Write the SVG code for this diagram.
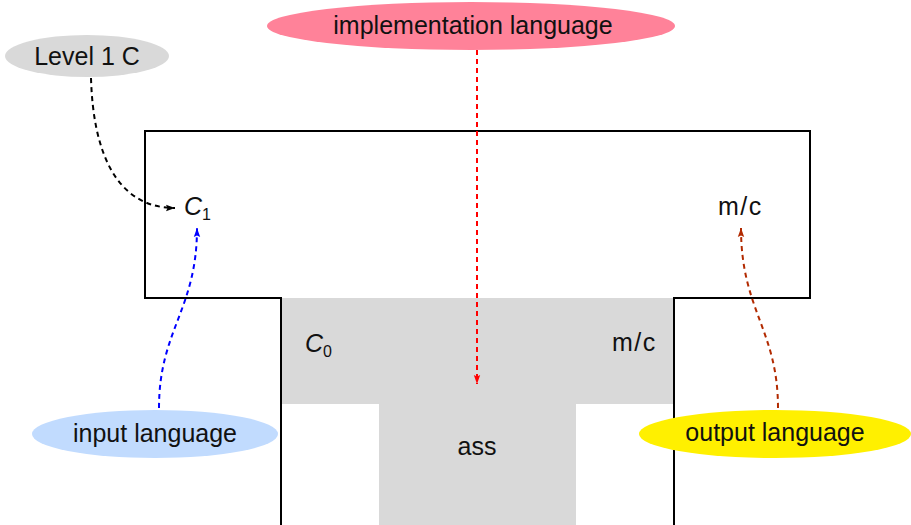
<svg xmlns="http://www.w3.org/2000/svg" width="911" height="525" viewBox="0 0 911 525">
<style>
  text { font-family: "Liberation Sans", Arial, sans-serif; font-size: 25px; fill: #111; }
  .mid { text-anchor: middle; }
  .it { font-style: italic; }
  .sub { font-size: 16px; }
  .mc { letter-spacing: 1.5px; }
  .outline { fill: none; stroke: #000; stroke-width: 2; }
  .conn { fill: none; stroke-width: 2; stroke-dasharray: 5 4; }
</style>
<defs>
  <marker id="ah-black" markerUnits="userSpaceOnUse" markerWidth="10" markerHeight="8" refX="9" refY="4" orient="auto">
    <path d="M0,0.8 L9,4 L0,7.2 L1.5,4 z" fill="#000"/>
  </marker>
  <marker id="ah-red" markerUnits="userSpaceOnUse" markerWidth="10" markerHeight="8" refX="9" refY="4" orient="auto">
    <path d="M0,0.8 L9,4 L0,7.2 L1.5,4 z" fill="#ff0000"/>
  </marker>
  <marker id="ah-blue" markerUnits="userSpaceOnUse" markerWidth="10" markerHeight="8" refX="9" refY="4" orient="auto">
    <path d="M0,0.8 L9,4 L0,7.2 L1.5,4 z" fill="#0000ff"/>
  </marker>
  <marker id="ah-brown" markerUnits="userSpaceOnUse" markerWidth="10" markerHeight="8" refX="9" refY="4" orient="auto">
    <path d="M0,0.8 L9,4 L0,7.2 L1.5,4 z" fill="#b22a00"/>
  </marker>
</defs>

<g id="lower-t">
  <path d="M282,298 H673 V404 H576 V525 H379 V404 H282 z" fill="#d9d9d9"/>
  <text class="it" x="305" y="352">C</text><text class="sub" x="323" y="357">0</text>
  <text class="mc" x="612" y="351">m/c</text>
  <text class="mid" x="477" y="455">ass</text>
</g>

<g id="upper-t">
  <path class="outline" d="M281,525 V298 H145 V131 H810 V298 H674 V525"/>
  <text class="it" x="184" y="215">C</text><text class="sub" x="202" y="220">1</text>
  <text class="mc" x="718" y="215">m/c</text>
</g>

<g id="level1c">
  <ellipse cx="87" cy="56" rx="82" ry="21" fill="#d9d9d9"/>
  <text class="mid" x="87" y="65">Level 1 C</text>
</g>

<g id="impl">
  <ellipse cx="471" cy="26" rx="204" ry="24" fill="#ff8299"/>
  <text class="mid" x="473" y="34">implementation language</text>
</g>

<g id="input">
  <ellipse cx="155" cy="434" rx="123" ry="24" fill="#c1dbfe"/>
  <text class="mid" x="155" y="442">input language</text>
</g>

<g id="output">
  <ellipse cx="775" cy="434" rx="136" ry="24" fill="#fff000"/>
  <text class="mid" x="775" y="441">output language</text>
</g>

<g id="connectors">
  <path class="conn" stroke="#000" d="M91,78 C93,150 115,208 175,208" marker-end="url(#ah-black)"/>
  <path class="conn" stroke="#ff0000" d="M477,50 V384" marker-end="url(#ah-red)"/>
  <path class="conn" stroke="#0000ff" d="M159,408 C159,330 197,310 197,228" marker-end="url(#ah-blue)"/>
  <path class="conn" stroke="#b22a00" d="M778,408 C778,330 741,310 741,228" marker-end="url(#ah-brown)"/>
</g>
</svg>
